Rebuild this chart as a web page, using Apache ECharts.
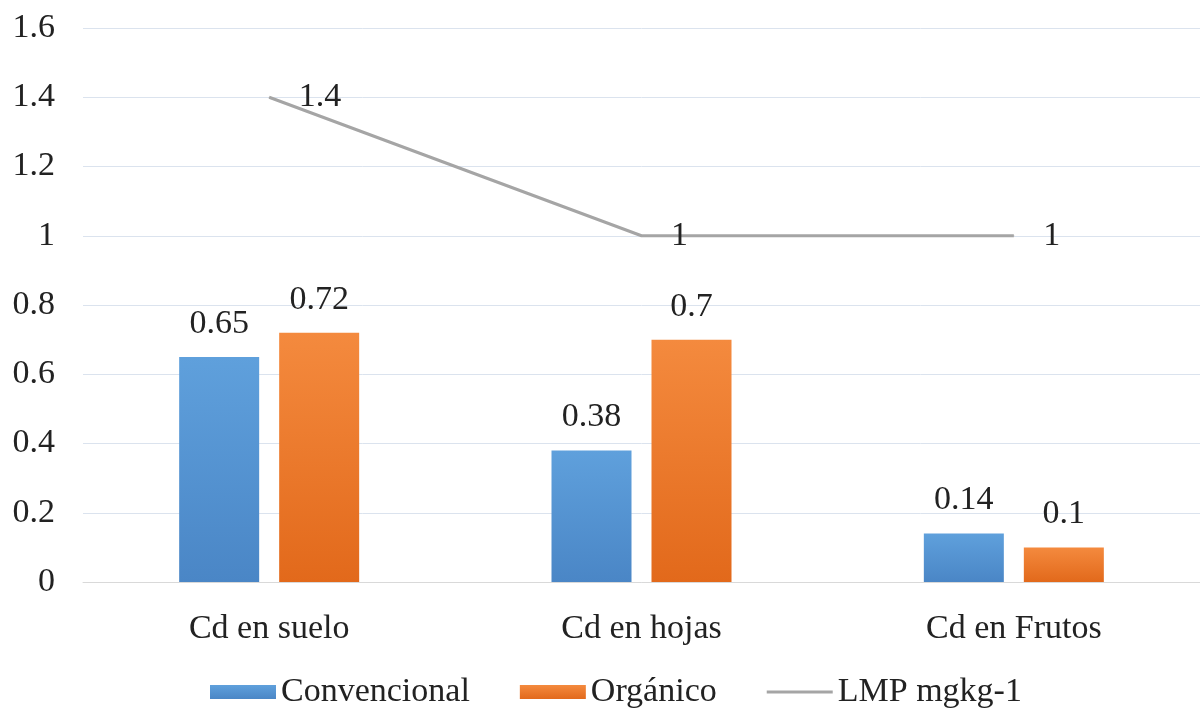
<!DOCTYPE html>
<html><head><meta charset="utf-8">
<script src="https://cdn.jsdelivr.net/npm/echarts@6/dist/echarts.min.js"></script>
<style>html,body{margin:0;padding:0;background:#fff}#c{width:1200px;height:713px}</style>
</head><body><div id="c"></div>
<script>
const categories = ['Cd en suelo', 'Cd en hojas', 'Cd en Frutos'];
const convencional = [0.65, 0.38, 0.14];
const organico = [0.72, 0.7, 0.1];
const lmp = [1.4, 1, 1];
const yTicks = [0, 0.2, 0.4, 0.6, 0.8, 1, 1.2, 1.4, 1.6];

const font = '"Liberation Serif", "Times New Roman", serif';
const FS = 34;
const txt = '#222222';
const chart = echarts.init(document.getElementById('c'));
const grad = (a, b) => new echarts.graphic.LinearGradient(0, 0, 0, 1, [{offset: 0, color: a}, {offset: 1, color: b}]);
chart.setOption({
  animation: false,
  textStyle: {fontFamily: font},
  grid: {left: 83, right: -8, top: 28, bottom: 131},
  legend: {
    bottom: -1, left: 205, itemWidth: 66, itemHeight: 14, itemGap: 50,
    textStyle: {fontFamily: font, fontSize: FS, color: txt},
    data: [
      {name: 'Convencional', icon: 'rect'},
      {name: 'Orgánico', icon: 'rect'},
      {name: 'LMP mgkg-1', icon: 'path://M0,0H66V3H0Z', itemStyle: {color: '#a5a5a5'}}
    ]
  },
  xAxis: {
    type: 'category', data: categories,
    axisLine: {lineStyle: {color: '#d9d9d9', width: 1}},
    axisTick: {show: false},
    axisLabel: {fontFamily: font, fontSize: FS, color: txt, margin: 30}
  },
  yAxis: {
    type: 'value', min: 0, max: 1.6, interval: 0.2,
    axisLine: {show: false}, axisTick: {show: false},
    axisLabel: {fontFamily: font, fontSize: FS, color: txt, margin: 28,
      formatter: v => { const t = yTicks.find(x => Math.abs(x - v) < 1e-6); return String(t !== undefined ? t : v); }},
    splitLine: {lineStyle: {color: '#dbe3ee', width: 1}}
  },
  series: [
    {name: 'Convencional', type: 'bar', data: convencional, barWidth: 80, barGap: '25%',
      itemStyle: {color: grad('#5fa0dc', '#4a86c6')},
      label: {show: true, position: 'top', distance: 16, fontFamily: font, fontSize: FS, color: txt}},
    {name: 'Orgánico', type: 'bar', data: organico, barWidth: 80,
      itemStyle: {color: grad('#f48a3e', '#e2691b')},
      label: {show: true, position: 'top', distance: 16, fontFamily: font, fontSize: FS, color: txt}},
    {name: 'LMP mgkg-1', type: 'line', data: lmp, symbol: 'circle', symbolSize: 1, showSymbol: true,
      lineStyle: {color: '#a5a5a5', width: 3}, itemStyle: {color: '#a5a5a5'},
      label: {show: true, position: 'right', distance: 29, fontFamily: font, fontSize: FS, color: txt}}
  ]
});
</script></body></html>
